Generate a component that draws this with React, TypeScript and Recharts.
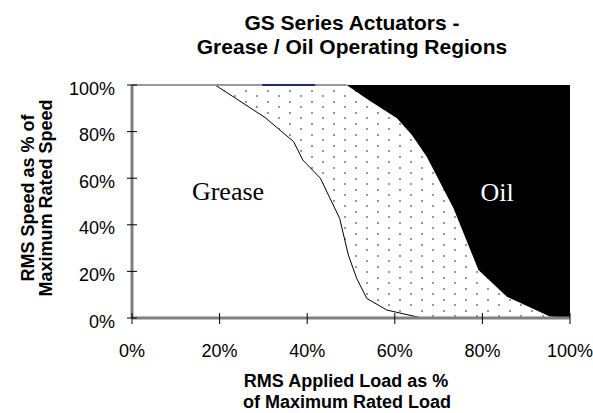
import React from 'react';
import { ComposedChart, Area, Line, XAxis, YAxis, ReferenceLine } from 'recharts';

// axis ticks (percent)
const loadTicks = [0, 20, 40, 60, 80, 100];
const speedTicks = [0, 20, 40, 60, 80, 100];

// grease limit curve (load %, speed %)
const greaseLoad = [19.0, 30.4, 36.9, 39.0, 43.0, 45.2, 47.4, 49.4, 51.3, 53.6, 58.2, 66.2];
const greaseSpeed = [100, 86.0, 75.7, 67.8, 60.0, 51.4, 42.8, 27.0, 17.0, 8.4, 3.4, 0];

// oil limit curve (load %, speed %)
const oilLoad = [49.0, 54.0, 60.5, 63.9, 67.3, 73.4, 79.1, 85.6, 95.4, 100];
const oilSpeed = [100, 93.6, 85.7, 78.5, 69.2, 47.1, 20.6, 9.1, 0.6, 0];

const greaseLine = greaseLoad.map((load, i) => ({ load, speed: greaseSpeed[i] }));
const greaseRegion = [{ load: 0, speed: 100 }, ...greaseLine];
const oilRegion = oilLoad.map((load, i) => ({ load, speed: oilSpeed[i] }));
const fullRegion = [{ load: 0, speed: 100 }, { load: 100, speed: 100 }];

const SANS = '"Liberation Sans", Arial, sans-serif';
const SERIF = '"Liberation Serif", "Times New Roman", serif';

const XTick = (props: any) => {
  const { x, y, payload } = props;
  return (
    <g>
      <line x1={x} x2={x} y1={y - 5} y2={y + 6} stroke="#000" strokeWidth={1} />
      <text x={x} y={y + 39} textAnchor="middle" fontSize={18} fontFamily={SANS} fill="#000">
        {payload.value}%
      </text>
    </g>
  );
};

const YTick = (props: any) => {
  const { x, y, payload } = props;
  return (
    <g>
      <line x1={x - 5} x2={x + 5} y1={y} y2={y} stroke="#000" strokeWidth={1} />
      <text x={x - 17} y={y + 9.5} textAnchor="end" fontSize={18} fontFamily={SANS} fill="#000">
        {payload.value}%
      </text>
    </g>
  );
};

export default function App() {
  return (
    <div style={{ position: 'absolute', left: 0, top: 0, width: 593, height: 413, background: '#fff' }}>
      <ComposedChart width={593} height={413} margin={{ top: 85, right: 23, bottom: 65, left: 0 }}>
        <defs>
          <pattern id="dots" patternUnits="userSpaceOnUse" width={22} height={11}>
            <rect x={3} y={2} width={2} height={2} fill="#999" shapeRendering="crispEdges" />
            <rect x={14} y={7} width={2} height={2} fill="#999" shapeRendering="crispEdges" />
          </pattern>
        </defs>
        <XAxis
          type="number"
          dataKey="load"
          domain={[0, 100]}
          ticks={loadTicks}
          tickSize={0}
          tickMargin={0}
          tickLine={false}
          tick={XTick}
          axisLine={{ stroke: '#808080', strokeWidth: 3 }}
        />
        <YAxis
          type="number"
          domain={[0, 100]}
          ticks={speedTicks}
          width={132}
          tickSize={0}
          tickMargin={0}
          tickLine={false}
          tick={YTick}
          axisLine={{ stroke: '#808080', strokeWidth: 3 }}
        />
        <Area
          data={fullRegion}
          dataKey="speed"
          type="linear"
          baseValue={0}
          fill="url(#dots)"
          fillOpacity={1}
          stroke="none"
          isAnimationActive={false}
        />
        <Area
          data={greaseRegion}
          dataKey="speed"
          type="linear"
          baseValue={0}
          fill="#fff"
          fillOpacity={1}
          stroke="none"
          isAnimationActive={false}
        />
        <Line
          data={greaseLine}
          dataKey="speed"
          type="linear"
          stroke="#000"
          strokeWidth={1}
          dot={false}
          isAnimationActive={false}
        />
        <Area
          data={oilRegion}
          dataKey="speed"
          type="linear"
          baseValue={100}
          fill="#000"
          fillOpacity={1}
          stroke="none"
          isAnimationActive={false}
        />
        <ReferenceLine
          segment={[{ x: 0, y: 100 }, { x: oilLoad[0], y: 100 }]}
          stroke="#999"
          strokeWidth={2}
        />
        <ReferenceLine
          segment={[{ x: 29.7, y: 100 }, { x: 41.8, y: 100 }]}
          stroke="#1c2a6b"
          strokeWidth={2}
        />
      </ComposedChart>
      <svg
        width={593}
        height={413}
        style={{ position: 'absolute', left: 0, top: 0, pointerEvents: 'none' }}
      >
        <g fontFamily={SANS} fontWeight="bold" fill="#000" textAnchor="middle">
          <text x={352} y={30} fontSize={21}>GS Series Actuators -</text>
          <text x={352} y={54} fontSize={21}>Grease / Oil Operating Regions</text>
          <text x={346} y={387} fontSize={18}>RMS Applied Load as %</text>
          <text x={347} y={408} fontSize={18}>of Maximum Rated Load</text>
          <text transform="translate(34,198) rotate(-90)" fontSize={18}>RMS Speed as % of</text>
          <text transform="translate(52,198) rotate(-90)" fontSize={18}>Maximum Rated Speed</text>
        </g>
        <text x={228} y={200} fontSize={26} fontFamily={SERIF} textAnchor="middle" fill="#000">
          Grease
        </text>
        <text x={497} y={201} fontSize={26} fontFamily={SERIF} textAnchor="middle" fill="#fff">
          Oil
        </text>
      </svg>
    </div>
  );
}
